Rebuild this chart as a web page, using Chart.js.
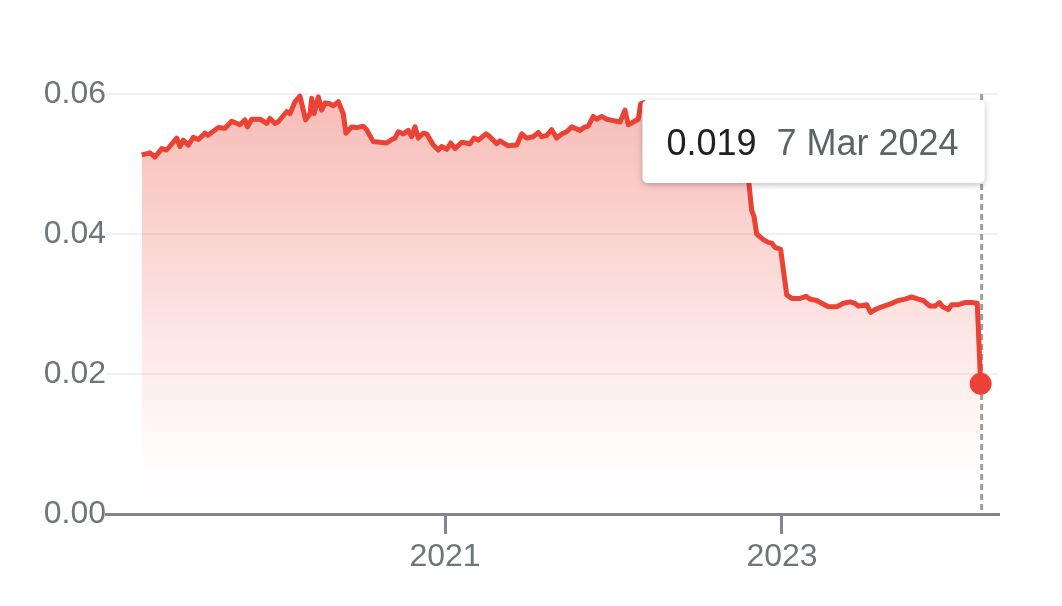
<!DOCTYPE html>
<html lang="en">
<head>
  <meta charset="UTF-8">
  <title>Rate chart</title>
  <style>
    body { margin: 0; background: #fff; }
  </style>
</head>
<body>
  <div><canvas id="myChart" width="1062" height="606"></canvas></div>
  <script src="https://cdn.jsdelivr.net/npm/chart.js"></script>
  <script>
    // dates as fractional years
    const dates = [
      2019.200, 2019.249, 2019.279, 2019.319, 2019.348, 2019.408, 2019.427, 2019.447, 2019.477, 2019.506,
      2019.536, 2019.576, 2019.593, 2019.655, 2019.694, 2019.734, 2019.783, 2019.813, 2019.827, 2019.853,
      2019.902, 2019.942, 2019.961, 2019.991, 2020.009, 2020.061, 2020.080, 2020.110, 2020.139, 2020.173,
      2020.199, 2020.209, 2020.223, 2020.248, 2020.268, 2020.288, 2020.318, 2020.337, 2020.367, 2020.396,
      2020.412, 2020.446, 2020.476, 2020.515, 2020.535, 2020.574, 2020.614, 2020.654, 2020.684, 2020.703,
      2020.723, 2020.753, 2020.782, 2020.802, 2020.822, 2020.842, 2020.871, 2020.891, 2020.931, 2020.960,
      2020.980, 2021.010, 2021.034, 2021.059, 2021.099, 2021.148, 2021.172, 2021.198, 2021.243, 2021.257,
      2021.307, 2021.326, 2021.376, 2021.426, 2021.455, 2021.485, 2021.524, 2021.554, 2021.574, 2021.604,
      2021.633, 2021.663, 2021.693, 2021.722, 2021.752, 2021.801, 2021.831, 2021.850, 2021.880, 2021.900,
      2021.930, 2021.960, 2021.999, 2022.039, 2022.068, 2022.088, 2022.117, 2022.147, 2022.161, 2022.187,
      2022.246, 2022.306, 2022.365, 2022.424, 2022.484, 2022.543, 2022.602, 2022.662, 2022.721, 2022.774,
      2022.804, 2022.820, 2022.834, 2022.850, 2022.889, 2022.919, 2022.939, 2022.958, 2022.992, 2023.028,
      2023.058, 2023.107, 2023.142, 2023.166, 2023.206, 2023.236, 2023.275, 2023.325, 2023.364, 2023.404,
      2023.433, 2023.453, 2023.503, 2023.526, 2023.552, 2023.592, 2023.631, 2023.661, 2023.690, 2023.730,
      2023.770, 2023.809, 2023.839, 2023.878, 2023.908, 2023.934, 2023.954, 2023.987, 2024.007, 2024.046,
      2024.086, 2024.126, 2024.159, 2024.179
    ]
    const rates = [
      0.0513, 0.0516, 0.0510, 0.0522, 0.0520, 0.0537, 0.0525, 0.0534, 0.0527, 0.0538,
      0.0535, 0.0544, 0.0541, 0.0552, 0.0551, 0.0561, 0.0556, 0.0563, 0.0553, 0.0564,
      0.0564, 0.0558, 0.0565, 0.0558, 0.0560, 0.0575, 0.0572, 0.0589, 0.0597, 0.0563,
      0.0572, 0.0594, 0.0572, 0.0596, 0.0577, 0.0587, 0.0586, 0.0583, 0.0589, 0.0572,
      0.0544, 0.0553, 0.0552, 0.0554, 0.0549, 0.0532, 0.0531, 0.0530, 0.0535, 0.0537,
      0.0546, 0.0543, 0.0548, 0.0539, 0.0553, 0.0537, 0.0544, 0.0543, 0.0527, 0.0520,
      0.0525, 0.0521, 0.0530, 0.0522, 0.0531, 0.0529, 0.0537, 0.0534, 0.0543, 0.0541,
      0.0529, 0.0533, 0.0526, 0.0527, 0.0543, 0.0537, 0.0539, 0.0545, 0.0539, 0.0541,
      0.0549, 0.0537, 0.0543, 0.0546, 0.0553, 0.0548, 0.0553, 0.0554, 0.0568, 0.0564,
      0.0568, 0.0564, 0.0562, 0.0560, 0.0577, 0.0556, 0.0560, 0.0564, 0.0586, 0.0588,
      0.0580, 0.0584, 0.0576, 0.0582, 0.0579, 0.0583, 0.0575, 0.0572, 0.0566, 0.0560,
      0.0472, 0.0434, 0.0425, 0.0400, 0.0392, 0.0388, 0.0387, 0.0381, 0.0378, 0.0313,
      0.0308, 0.0308, 0.0311, 0.0307, 0.0305, 0.0301, 0.0296, 0.0296, 0.0301, 0.0303,
      0.0301, 0.0297, 0.0299, 0.0288, 0.0292, 0.0296, 0.0299, 0.0302, 0.0305, 0.0307,
      0.0310, 0.0307, 0.0305, 0.0297, 0.0297, 0.0302, 0.0296, 0.0292, 0.0299, 0.0299,
      0.0302, 0.0302, 0.0301, 0.0186
    ]
    const yearTicks = [2021, 2023]
    const rateTicks = [0, 0.02, 0.04, 0.06]
    const lastDateLabel = '7 Mar 2024'

    const red = '#ea4335'
    const fontFamily = 'Arial, "Liberation Sans", sans-serif'
    const last = rates.length - 1

    // dashed marker line behind the data, tooltip card on top
    const hoverPlugin = {
      id: 'hover',
      beforeDatasetsDraw(chart) {
        const { ctx, chartArea } = chart
        const pt = chart.getDatasetMeta(0).data[last]
        ctx.save()
        ctx.strokeStyle = '#9e9e9e'
        ctx.lineWidth = 3
        ctx.setLineDash([6, 4])
        ctx.beginPath()
        ctx.moveTo(pt.x + 1, chartArea.top)
        ctx.lineTo(pt.x + 1, chartArea.bottom)
        ctx.stroke()
        ctx.restore()
      },
      afterDraw(chart) {
        const { ctx } = chart
        const pt = chart.getDatasetMeta(0).data[last]
        const valueText = rates[last].toFixed(3)
        ctx.save()
        ctx.font = '36px ' + fontFamily
        const w1 = ctx.measureText(valueText).width
        const w2 = ctx.measureText(lastDateLabel).width
        const w = 24 + w1 + 20 + w2 + 26
        const h = 83
        const right = pt.x + 4
        const left = right - w
        const top = 100
        ctx.shadowColor = 'rgba(0,0,0,0.25)'
        ctx.shadowBlur = 6
        ctx.shadowOffsetY = 2
        ctx.fillStyle = '#fff'
        ctx.beginPath()
        ctx.roundRect(left, top, w, h, 5)
        ctx.fill()
        ctx.shadowColor = 'transparent'
        ctx.textBaseline = 'alphabetic'
        ctx.fillStyle = '#202124'
        ctx.fillText(valueText, left + 24, 155)
        ctx.fillStyle = '#5f6368'
        ctx.fillText(lastDateLabel, left + 24 + w1 + 20, 155)
        ctx.restore()
      }
    }

    const ctx = document.getElementById('myChart')

    new Chart(ctx, {
      type: 'line',
      data: {
        datasets: [{
          data: dates.map((d, i) => ({ x: d, y: rates[i] })),
          borderColor: red,
          borderWidth: 5,
          borderJoinStyle: 'round',
          tension: 0,
          fill: 'origin',
          clip: false,
          backgroundColor: (c) => {
            const area = c.chart.chartArea
            if (!area) return 'rgba(234,67,53,0.3)'
            const g = c.chart.ctx.createLinearGradient(0, area.top, 0, area.bottom)
            g.addColorStop(0, 'rgba(234,67,53,0.36)')
            g.addColorStop(0.85, 'rgba(234,67,53,0.02)')
            g.addColorStop(1, 'rgba(234,67,53,0)')
            return g
          },
          pointRadius: (c) => c.dataIndex === last ? 11 : 0,
          pointBackgroundColor: red,
          pointBorderWidth: 0,
          pointHoverRadius: 0
        }]
      },
      options: {
        responsive: false,
        animation: false,
        events: [],
        layout: { padding: { top: 94, right: 64, bottom: 0, left: 0 } },
        plugins: {
          legend: { display: false },
          tooltip: { enabled: false }
        },
        scales: {
          x: {
            type: 'linear',
            min: 2018.988,
            max: 2024.282,
            afterBuildTicks: (s) => { s.ticks = yearTicks.map(v => ({ value: v })) },
            afterFit: (s) => { s.height = 92 },
            border: { display: true, color: '#80868b', width: 3 },
            grid: { drawOnChartArea: false, drawTicks: true, tickLength: 20, color: '#80868b', lineWidth: 3 },
            ticks: {
              color: '#70757a',
              font: { size: 32, family: fontFamily },
              padding: 4,
              maxRotation: 0,
              callback: (v) => String(v)
            }
          },
          y: {
            min: 0,
            max: 0.06,
            afterBuildTicks: (s) => { s.ticks = rateTicks.map(v => ({ value: v })) },
            afterFit: (s) => { s.width = 106 },
            border: { display: false },
            grid: { color: '#f1f1f1', lineWidth: 2, drawTicks: false },
            ticks: {
              color: '#70757a',
              font: { size: 32, family: fontFamily },
              padding: 0,
              callback: (v) => v.toFixed(2)
            }
          }
        }
      },
      plugins: [hoverPlugin]
    })
  </script>
</body>
</html>
